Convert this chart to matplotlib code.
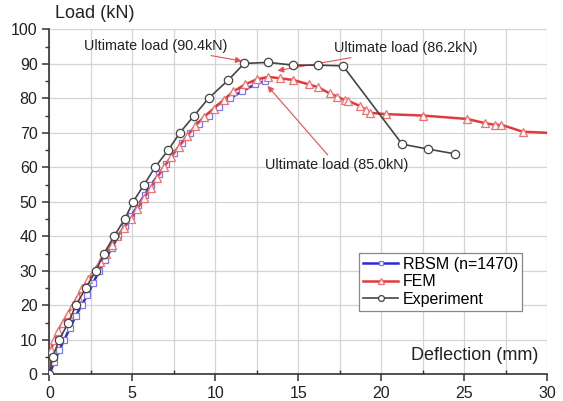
import numpy as np
import matplotlib
matplotlib.use("Agg")
import matplotlib.pyplot as plt
from matplotlib.ticker import MultipleLocator

plt.rcParams['font.family'] = ['Liberation Sans', 'DejaVu Sans']

# experiment (black circles)
exp_x = [0, 0.2, 0.6, 1.15, 1.6, 2.2, 2.8, 3.3, 3.9, 4.55, 5.05, 5.72, 6.37, 7.17, 7.87,
         8.73, 9.6, 10.77, 11.75, 13.2, 14.7, 16.17, 17.7, 21.27, 22.8, 24.44]
exp_y = [0, 5, 10, 15, 20, 25, 30, 35, 40, 45, 50, 55, 60, 65, 70,
         75, 80, 85.2, 90.1, 90.4, 89.6, 89.6, 89.4, 66.7, 65.3, 63.9]

# RBSM (blue squares)
rbsm_x = [0, 0.3, 0.6, 0.9, 1.25, 1.6, 1.95, 2.3, 2.65, 3.0, 3.35, 3.75, 4.15, 4.55, 4.95,
          5.35, 5.75, 6.15, 6.6, 7.05, 7.5, 8.0, 8.5, 9.0, 9.6, 10.2, 10.9, 11.6, 12.4, 13.0]
rbsm_y = [0, 3.5, 7, 10, 13.5, 17, 20, 23, 26.5, 30, 33, 36.5, 40, 43, 46,
          49, 52, 55, 58, 61, 64, 67, 70, 72.5, 75, 77.5, 80, 82, 84, 85.0]

# FEM (red triangles)
fem_x = [0, 0.1, 0.3, 0.5, 0.8, 1.1, 1.4, 1.7, 2.0, 2.35, 2.7, 3.05, 3.4, 3.75, 4.1, 4.5,
         4.9, 5.3, 5.7, 6.1, 6.5, 6.9, 7.35, 7.8, 8.3, 8.8, 9.3, 9.9, 10.5, 11.1, 11.8,
         12.5, 13.2, 13.9, 14.7, 15.66, 16.2, 16.9, 17.35, 17.8, 18.0, 18.7, 19.1, 19.3,
         20.3, 22.5, 25.2, 26.25, 26.85, 27.25, 28.55, 30.0]
fem_y = [0, 7, 10, 12.5, 15, 17.5, 20, 22.5, 25, 27.5, 30, 32.5, 35, 37.5, 40, 42.5,
         45, 48, 51, 54, 57, 60, 63, 66, 69, 72, 74.5, 77, 79.5, 82, 84,
         85.5, 86.2, 85.8, 85.3, 84.0, 83.2, 81.4, 80.5, 79.5, 79.3, 77.8, 76.6, 75.8,
         75.4, 75.0, 74.0, 72.8, 72.3, 72.3, 70.3, 70.0]
fem_marks = list(range(len(fem_x) - 1))

blue = '#2a2ad8'
red = '#e23a3a'
black = '#454545'

fig = plt.figure(figsize=(5.63, 4.01), dpi=100)
ax = fig.add_axes([0.0876, 0.0666, 0.8840, 0.8604])

ax.plot(rbsm_x, rbsm_y, color=blue, lw=1.8, marker='s', ms=5, mfc='white',
        mec='#7a7ae8', mew=0.9, label='RBSM (n=1470)', zorder=3)
ax.plot(fem_x, fem_y, color=red, lw=1.8, marker='^', ms=6, mfc='white',
        mec='#ee7070', mew=0.9, markevery=fem_marks, label='FEM', zorder=4)
ax.plot(exp_x, exp_y, color=black, lw=1.2, marker='o', ms=6, mfc='white',
        mec=black, mew=0.9, label='Experiment', zorder=5)

ax.set_xlim(0, 30)
ax.set_ylim(0, 100)
ax.xaxis.set_major_locator(MultipleLocator(5))
ax.xaxis.set_minor_locator(MultipleLocator(2.5))
ax.yaxis.set_major_locator(MultipleLocator(10))
ax.yaxis.set_minor_locator(MultipleLocator(5))

ax.grid(True, which='major', axis='y', color='#d4d4d4', lw=0.9)
ax.grid(True, which='both', axis='x', color='#d4d4d4', lw=0.9)
ax.set_axisbelow(True)

for s in ['top', 'right']:
    ax.spines[s].set_visible(False)
for s in ['left', 'bottom']:
    ax.spines[s].set_color('#333333')
    ax.spines[s].set_linewidth(1.2)

ax.tick_params(axis='both', which='major', direction='out', length=5, width=1.1,
               colors='#333333', labelsize=11.5, labelcolor='#222222')
ax.tick_params(axis='y', which='minor', direction='out', length=3, width=1.0, colors='#333333')
ax.tick_params(axis='x', which='minor', direction='in', length=3, width=1.0, colors='#333333')

ax.text(0.012, 1.02, 'Load (kN)', transform=ax.transAxes, fontsize=13,
        ha='left', va='bottom', color='#222222')
ax.text(0.982, 0.03, 'Deflection (mm)', transform=ax.transAxes, fontsize=13,
        ha='right', va='bottom', color='#222222')

arrow = dict(arrowstyle='-|>', color='#e85050', lw=0.8, mutation_scale=9, shrinkA=0, shrinkB=0)
ax.annotate('Ultimate load (90.4kN)', xy=(11.6, 90.8), xytext=(6.4, 95.2),
            fontsize=10.4, ha='center', va='center', color='#222222', arrowprops=arrow)
ax.annotate('Ultimate load (86.2kN)', xy=(13.75, 88.0), xytext=(21.5, 94.6),
            fontsize=10.4, ha='center', va='center', color='#222222', arrowprops=arrow)
ax.annotate('Ultimate load (85.0kN)', xy=(13.15, 83.6), xytext=(17.3, 60.7),
            fontsize=10.4, ha='center', va='center', color='#222222', arrowprops=arrow)

leg = ax.legend(loc='upper right', bbox_to_anchor=(0.95, 0.352), fontsize=11.5,
                frameon=True, fancybox=False, edgecolor='#888888', framealpha=1,
                handlelength=2.2, handletextpad=0.3, borderpad=0.25, labelspacing=0.15,
                borderaxespad=0, markerscale=0.7)
leg.get_frame().set_linewidth(0.9)

fig.savefig('out.png', dpi=100)
